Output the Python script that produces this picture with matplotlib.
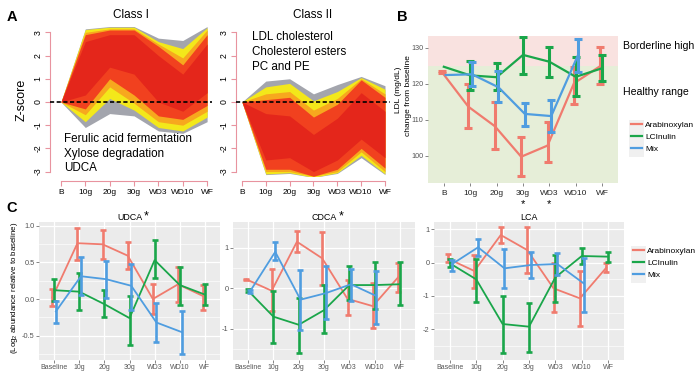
import numpy as np
import matplotlib
matplotlib.use("Agg")
import matplotlib.pyplot as plt
from matplotlib.patches import Rectangle
from matplotlib.lines import Line2D

plt.rcParams["font.family"] = ["Liberation Sans", "DejaVu Sans"]
plt.rcParams["axes.unicode_minus"] = False
plt.rcParams["mathtext.fontset"] = "custom"
plt.rcParams["mathtext.rm"] = "Liberation Sans"
plt.rcParams["mathtext.it"] = "Liberation Sans:italic"
plt.rcParams["mathtext.bf"] = "Liberation Sans:bold"

nan = np.nan

# ---------------- data ----------------
timepoints = ["B", "10g", "20g", "30g", "WD3", "WD10", "WF"]
timepoints_c = ["Baseline", "10g", "20g", "30g", "WD3", "WD10", "WF"]
groups = ["Arabinoxylan", "LCInulin", "Mix"]

# Panel A: z-score envelopes of the cluster profiles, per membership layer
c1_gray_hi = [0, 3.15, 3.25, 3.25, 2.75, 2.65, 3.25]
c1_gray_lo = [0, -1.10, -0.50, -0.60, -1.25, -1.35, -0.85]
c1_yellow_hi = [0, 3.12, 3.22, 3.22, 2.60, 2.30, 3.20]
c1_yellow_lo = [0, -0.85, 0.15, -0.35, -1.10, -1.25, -0.65]
c1_orange_hi = [0, 3.00, 3.15, 3.15, 2.50, 1.90, 3.10]
c1_orange_lo = [0, -0.55, 0.65, -0.05, -0.85, -1.00, -0.40]
c1_red_hi = [0, 2.90, 3.10, 3.10, 2.40, 1.60, 2.90]
c1_red_lo = [0, -0.30, 1.00, 0.30, -0.60, -0.75, -0.15]
c1_core_hi = [0, 2.60, 2.90, 2.90, 2.00, 1.20, 2.50]
c1_core_lo = [0, 0.30, 1.50, 1.20, 0.00, -0.40, 0.40]

c2_gray_hi = [0, 0.90, 1.00, 0.35, 0.75, 1.10, 0.70]
c2_gray_lo = [0, -3.13, -3.08, -3.25, -3.08, -2.40, -3.13]
c2_yellow_hi = [0, 0.65, 0.80, 0.05, 0.45, 1.05, 0.55]
c2_yellow_lo = [0, -3.10, -3.05, -3.25, -3.05, -2.30, -3.10]
c2_orange_hi = [0, 0.35, 0.45, -0.35, 0.15, 1.00, 0.35]
c2_orange_lo = [0, -3.00, -3.00, -3.20, -3.00, -2.15, -3.00]
c2_red_hi = [0, 0.10, 0.20, -0.65, -0.10, 0.95, 0.20]
c2_red_lo = [0, -2.90, -2.90, -3.20, -2.90, -2.00, -2.85]
c2_core_hi = [0, -0.50, -0.60, -1.40, -0.70, 0.40, -0.40]
c2_core_lo = [0, -2.50, -2.40, -3.00, -2.50, -1.60, -2.40]

class1_text = ["Ferulic acid fermentation", "Xylose degradation", "UDCA"]
class2_text = ["LDL cholesterol", "Cholesterol esters", "PC and PE"]

# Panel B: LDL (mg/dL)
ldl_threshold = 125
ldl_ara_mean = [123.2, 113.6, 108.2, 99.7, 102.8, 120.1, 124.9]
ldl_ara_lo = [122.9, 107.8, 101.9, 94.4, 98.1, 114.3, 120.0]
ldl_ara_hi = [123.5, 119.8, 115.0, 105.3, 109.4, 124.7, 130.3]
ldl_lci_mean = [124.7, 122.3, 121.8, 128.0, 126.1, 121.9, 124.3]
ldl_lci_lo = [nan, 118.3, 118.2, 122.7, 121.9, 116.6, 120.8]
ldl_lci_hi = [nan, 126.3, 125.8, 133.0, 130.3, 127.3, 128.0]
ldl_mix_mean = [122.4, 122.6, 119.0, 111.6, 111.0, 127.7, nan]
ldl_mix_lo = [nan, 119.4, 115.0, 108.2, 106.5, 123.3, nan]
ldl_mix_hi = [nan, 126.1, 123.5, 114.7, 115.5, 132.3, nan]
ldl_signif = ["", "", "", "*", "*", "", ""]

# Panel C: log2 abundance relative to baseline
udca_ara_mean = [0.02, 0.76, 0.745, 0.59, 0.00, 0.20, 0.04]
udca_ara_lo = [-0.09, 0.53, 0.545, 0.41, -0.21, -0.04, -0.15]
udca_ara_hi = [0.14, 0.97, 0.94, 0.77, 0.21, 0.44, 0.19]
udca_lci_mean = [0.12, 0.10, -0.07, -0.26, 0.53, 0.19, 0.06]
udca_lci_lo = [-0.03, -0.15, -0.25, -0.62, 0.29, -0.08, -0.08]
udca_lci_hi = [0.27, 0.35, 0.12, 0.04, 0.81, 0.44, 0.20]
udca_mix_mean = [-0.17, 0.31, 0.27, 0.18, -0.32, -0.45, nan]
udca_mix_lo = [-0.33, 0.05, 0.02, -0.15, -0.58, -0.75, nan]
udca_mix_hi = [-0.03, 0.57, 0.52, 0.48, -0.05, -0.16, nan]

cdca_ara_mean = [0.22, -0.06, 1.15, 0.74, -0.26, -0.44, 0.27]
cdca_ara_lo = [0.20, -0.56, 0.90, 0.08, -0.67, -0.99, -0.10]
cdca_ara_hi = [0.24, 0.47, 1.41, 1.39, 0.20, 0.12, 0.62]
cdca_lci_mean = [-0.06, -0.70, -0.90, -0.54, 0.08, 0.08, 0.10]
cdca_lci_lo = [-0.10, -1.35, -1.59, -1.11, -0.28, -0.52, -0.40]
cdca_lci_hi = [-0.02, -0.06, -0.23, 0.08, 0.54, 0.65, 0.65]
cdca_mix_mean = [-0.08, 0.90, -0.28, -0.12, 0.10, -0.19, nan]
cdca_mix_lo = [-0.11, 0.70, -1.03, -0.75, -0.31, -0.87, nan]
cdca_mix_hi = [-0.05, 1.15, 0.46, 0.54, 0.48, 0.42, nan]

lca_ara_mean = [0.12, -0.25, 0.83, 0.38, -0.77, -1.07, -0.15]
lca_ara_lo = [0.01, -0.75, 0.58, -0.30, -1.49, -1.90, -0.28]
lca_ara_hi = [0.25, 0.23, 1.06, 1.06, 0.00, -0.25, -0.02]
lca_lci_mean = [-0.02, -0.50, -1.84, -1.92, -0.44, 0.20, 0.18]
lca_lci_lo = [-0.12, -1.19, -2.70, -2.69, -1.17, -0.03, 0.03]
lca_lci_hi = [0.10, 0.10, -0.99, -1.20, 0.23, 0.43, 0.33]
lca_mix_mean = [-0.05, 0.46, -0.17, -0.07, -0.04, -0.62, nan]
lca_mix_lo = [-0.25, 0.20, -0.77, -0.47, -0.37, -1.49, nan]
lca_mix_hi = [0.08, 0.71, 0.41, 0.33, 0.30, 0.13, nan]

# ---------------- styling ----------------
W, H = 700, 379
COLS = ["#f07b6e", "#1aa64a", "#4f9de0"]
DODGE = [-0.07, 0.0, 0.07]
PINK_AXIS = "#e8939f"
LAYER_COLS = ["#a3a5ad", "#f3e81a", "#f7a81e", "#f1411f", "#e4261b"]

fig = plt.figure(figsize=(W / 100, H / 100), dpi=100)


def px_box(x0, y0, x1, y1):
    return [x0 / W, 1 - y1 / H, (x1 - x0) / W, (y1 - y0) / H]


# ---------------- Panel A ----------------
def draw_class(ax, layers, xlim, title):
    x = np.arange(len(timepoints))
    for (lo, hi), col in zip(layers, LAYER_COLS):
        ax.fill_between(x, lo, hi, color=col, lw=0, zorder=2)
    ax.axhline(0, color="black", ls=(0, (2.5, 1.5)), lw=1.2, zorder=3)
    ax.set_xlim(*xlim)
    ax.set_ylim(-3.19, 3.36)
    for s in ["top", "right"]:
        ax.spines[s].set_visible(False)
    ax.spines["left"].set_color(PINK_AXIS)
    ax.spines["left"].set_bounds(-3, 3)
    ax.spines["bottom"].set_color(PINK_AXIS)
    ax.spines["bottom"].set_bounds(0, 6)
    ax.spines["bottom"].set_position(("outward", 3.6))
    ax.set_xticks(x)
    ax.set_xticklabels(timepoints, fontsize=6)
    ax.set_yticks(range(-3, 4))
    ax.set_yticklabels([str(v) for v in range(-3, 4)], fontsize=6.3,
                       rotation=90, va="center")
    ax.tick_params(axis="both", color=PINK_AXIS, length=3.5, width=0.8, pad=2)
    ax.set_facecolor("none")
    ax.set_title(title, fontsize=8.5, pad=4.5)


axA1 = fig.add_axes(px_box(50, 24, 212, 176))
draw_class(axA1,
           [(c1_gray_lo, c1_gray_hi), (c1_yellow_lo, c1_yellow_hi),
            (c1_orange_lo, c1_orange_hi), (c1_red_lo, c1_red_hi),
            (c1_core_lo, c1_core_hi)],
           (-0.45, 6.2), "Class I")
axA1.set_ylabel("Z-score", fontsize=9, labelpad=4)

axA2 = fig.add_axes(px_box(236, 24, 390, 176))
draw_class(axA2,
           [(c2_gray_lo, c2_gray_hi), (c2_yellow_lo, c2_yellow_hi),
            (c2_orange_lo, c2_orange_hi), (c2_red_lo, c2_red_hi),
            (c2_core_lo, c2_core_hi)],
           (-0.25, 6.21), "Class II")


# ---------------- series helper ----------------
def draw_series(ax, means, los, his, lw, elw, cap):
    x = np.arange(len(timepoints))
    for i, (m, lo, hi) in enumerate(zip(means, los, his)):
        m = np.asarray(m, float)
        lo = np.asarray(lo, float)
        hi = np.asarray(hi, float)
        xi = x + DODGE[i]
        ok = np.isfinite(m)
        ax.plot(xi[ok], m[ok], color=COLS[i], lw=lw, zorder=3 + i,
                solid_joinstyle="round")
        okb = ok & np.isfinite(lo) & np.isfinite(hi)
        ax.errorbar(xi[okb], m[okb], yerr=[m[okb] - lo[okb], hi[okb] - m[okb]],
                    fmt="none", ecolor=COLS[i], elinewidth=elw, capsize=cap,
                    capthick=elw, zorder=3 + i)


# ---------------- Panel B ----------------
axB = fig.add_axes(px_box(428, 36, 618, 183))
B_ylim = (92.4, 133.25)
axB.set_xlim(-0.6, 6.6)
axB.set_ylim(*B_ylim)
axB.axhspan(ldl_threshold, B_ylim[1], color="#f9e2e0", lw=0, zorder=0)
axB.axhspan(B_ylim[0], ldl_threshold, color="#e6eed8", lw=0, zorder=0)
draw_series(axB,
            [ldl_ara_mean, ldl_lci_mean, ldl_mix_mean],
            [ldl_ara_lo, ldl_lci_lo, ldl_mix_lo],
            [ldl_ara_hi, ldl_lci_hi, ldl_mix_hi],
            lw=1.6, elw=2.2, cap=3.0)
for s in axB.spines.values():
    s.set_visible(False)
axB.set_xticks(range(len(timepoints)))
axB.set_xticklabels(timepoints, fontsize=6, color="#222222")
axB.set_yticks([100, 110, 120, 130])
axB.set_yticklabels(["100", "110", "120", "130"], fontsize=5.2, color="#555555")
axB.tick_params(axis="both", length=2, width=0.5, color="#555555", pad=1.5)
axB.tick_params(axis="x", pad=3)
for i, s in enumerate(ldl_signif):
    if s:
        axB.annotate(s, xy=(i, 0), xycoords=("data", "axes fraction"),
                     xytext=(0, -15.5), textcoords="offset points",
                     ha="center", va="center", fontsize=8)


# ---------------- Panel C ----------------
def draw_c(box, ylim, yticks, yticklabels, minor, title, star, data):
    ax = fig.add_axes(px_box(*box))
    ax.set_facecolor("#ebebeb")
    ax.set_xlim(-0.6, 6.6)
    ax.set_ylim(*ylim)
    ax.set_axisbelow(True)
    ax.set_xticks(range(len(timepoints_c)))
    ax.set_xticklabels(timepoints_c, fontsize=5, color="#555555")
    ax.set_yticks(yticks)
    ax.set_yticklabels(yticklabels, fontsize=5.3, color="#555555")
    ax.set_yticks(minor, minor=True)
    ax.tick_params(axis="y", which="minor", length=0)
    ax.grid(which="major", color="white", lw=0.9)
    ax.grid(which="minor", axis="y", color="white", lw=0.45)
    ax.tick_params(axis="both", which="major", length=2, width=0.5,
                   color="#555555", pad=1.2)
    for s in ax.spines.values():
        s.set_visible(False)
    draw_series(ax, *data, lw=1.3, elw=1.9, cap=2.2)
    t = ax.set_title(title, fontsize=6.4, pad=1.5)
    if star:
        ax.annotate("*", xy=(1, 1), xycoords=t, xytext=(1.5, 1.5),
                    textcoords="offset points", ha="left", va="top",
                    fontsize=9)
    return ax


axU = draw_c((39, 222, 220, 360), (-0.831, 1.049),
             [-0.5, 0.0, 0.5, 1.0], ["-0.5", "0.0", "0.5", "1.0"],
             [-0.75, -0.25, 0.25, 0.75], "UDCA", True,
             ([udca_ara_mean, udca_lci_mean, udca_mix_mean],
              [udca_ara_lo, udca_lci_lo, udca_mix_lo],
              [udca_ara_hi, udca_lci_hi, udca_mix_hi]))
axCD = draw_c((233, 222, 415, 360), (-1.77, 1.637),
              [-1, 0, 1], ["-1", "0", "1"],
              [-1.5, -0.5, 0.5, 1.5], "CDCA", True,
              ([cdca_ara_mean, cdca_lci_mean, cdca_mix_mean],
               [cdca_ara_lo, cdca_lci_lo, cdca_mix_lo],
               [cdca_ara_hi, cdca_lci_hi, cdca_mix_hi]))
axL = draw_c((434, 222, 624, 360), (-2.92, 1.22),
             [-2, -1, 0, 1], ["-2", "-1", "0", "1"],
             [-2.5, -1.5, -0.5, 0.5], "LCA", False,
             ([lca_ara_mean, lca_lci_mean, lca_mix_mean],
              [lca_ara_lo, lca_lci_lo, lca_mix_lo],
              [lca_ara_hi, lca_lci_hi, lca_mix_hi]))

# ---------------- overlay for labels / legends ----------------
ov = fig.add_axes([0, 0, 1, 1], zorder=10)
ov.set_xlim(0, W)
ov.set_ylim(H, 0)
ov.axis("off")
ov.patch.set_alpha(0)

ov.text(12, 17, "A", fontsize=10.5, fontweight="bold", ha="center", va="center")
ov.text(402, 17, "B", fontsize=10.5, fontweight="bold", ha="center", va="center")
ov.text(12, 208, "C", fontsize=10.5, fontweight="bold", ha="center", va="center")

for k, s in enumerate(class1_text):
    ov.text(64, 139 + 14.5 * k, s, fontsize=8.4, ha="left", va="center")
for k, s in enumerate(class2_text):
    ov.text(252, 37 + 15 * k, s, fontsize=8.4, ha="left", va="center")

ov.text(623, 46, "Borderline high", fontsize=7.6, ha="left", va="center")
ov.text(623, 92, "Healthy range", fontsize=7.6, ha="left", va="center")

ov.text(399, 90, "LDL (mg/dL)", fontsize=6.0, rotation=90, ha="center", va="center")
ov.text(408, 96, "change from baseline", fontsize=6.0, rotation=90,
        ha="center", va="center")
ov.text(15, 288, "(Log$_2$ abundance relative to baseline)", fontsize=5.7,
        rotation=90, ha="center", va="center")

handles = [Line2D([], [], color=c, lw=1.6) for c in COLS]
for (x0, y0) in [(629, 126), (631, 252)]:
    for k in range(3):
        ov.add_patch(Rectangle((x0, y0 - 6.2 + 12.3 * k), 15, 12.3,
                               facecolor="#f0f0f0", edgecolor="none", zorder=1))
leg1 = ov.legend(handles, groups, loc="upper left", bbox_to_anchor=(631, 121.5),
                 bbox_transform=ov.transData, frameon=False, fontsize=6,
                 handlelength=1.3, handletextpad=0.4, labelspacing=0.5,
                 borderpad=0, borderaxespad=0)
ov.add_artist(leg1)
leg2 = ov.legend(handles, groups, loc="upper left", bbox_to_anchor=(633, 247.5),
                 bbox_transform=ov.transData, frameon=False, fontsize=6,
                 handlelength=1.3, handletextpad=0.4, labelspacing=0.5,
                 borderpad=0, borderaxespad=0)

fig.savefig("out.png", dpi=100)
